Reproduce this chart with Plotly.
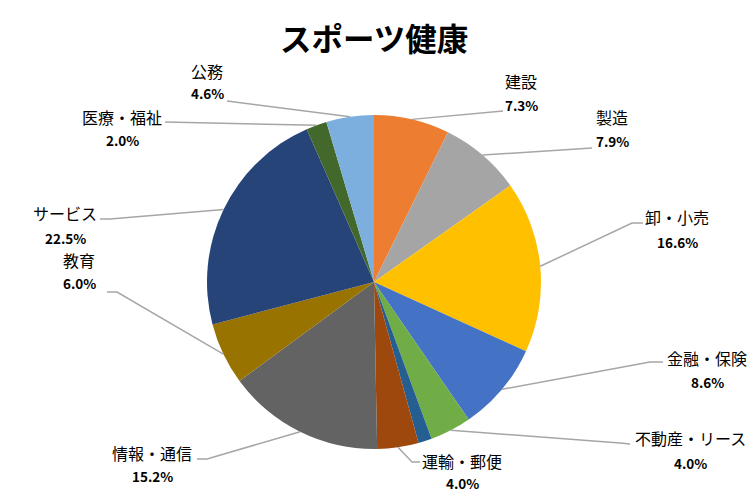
import math
import plotly.graph_objects as go

# ---- data ----
categories = ["建設", "製造", "卸・小売", "金融・保険", "不動産・リース", "",
              "運輸・郵便", "情報・通信", "教育", "サービス", "医療・福祉", "公務"]
values = [7.3, 7.9, 16.6, 8.6, 4.0, 1.3, 4.0, 15.2, 6.0, 22.5, 2.0, 4.6]
colors = ["#ED7D31", "#A5A5A5", "#FFC000", "#4472C4", "#70AD47", "#255E91",
          "#9E480E", "#636363", "#997300", "#264478", "#43682B", "#7CAFDD"]
title = "スポーツ健康"

# ---- layout (pixels) ----
W, H = 748, 492
CX, CY, R = 374, 282, 167
# label centre x, name line y, percent line y
label_pos = [(521, 81, 105), (612, 117, 141), (677, 217, 242), (707, 358, 382),
             (690, 438, 463), None, (462, 461, 483), (152, 453, 476),
             (79, 260, 283), (65, 213, 238), (122, 117, 140), (207, 71, 93)]
# leader bend point, leader end point
leader_pts = [((503, 111), (503, 111)), ((592, 148), (592, 148)),
              ((632, 223), (643, 223)), ((650, 362), (663, 362)),
              ((620, 443), (630, 444)), None, ((412, 462), (420, 462)),
              ((207, 459), (197, 459)), ((117, 292), (107, 292)),
              ((110, 219), (100, 219)), ((165, 122), (165, 122)),
              ((227, 101), (227, 101))]

def px(x):
    return x / W

def py(y):
    return 1 - y / H

fig = go.Figure(go.Pie(
    labels=[c if c else "その他" for c in categories], values=values,
    sort=False, direction="clockwise", rotation=0,
    marker=dict(colors=colors, line=dict(width=0)),
    textinfo="none", hoverinfo="label+percent",
    domain=dict(x=[px(CX - R), px(CX + R)], y=[py(CY + R), py(CY - R)]),
    showlegend=False,
))

total = sum(values)
cum = 0.0
annotations = []
shapes = []
for cat, v, lp, ld in zip(categories, values, label_pos, leader_pts):
    mid = (cum + v / 2) / total * 2 * math.pi
    cum += v
    if lp is None:
        continue
    sx = CX + R * math.sin(mid)
    sy = CY - R * math.cos(mid)
    (bx, by), (ex, ey) = ld
    path = f"M {px(sx)},{py(sy)} L {px(bx)},{py(by)} L {px(ex)},{py(ey)}"
    shapes.append(dict(type="path", xref="paper", yref="paper", path=path,
                       line=dict(color="#A6A6A6", width=1.5)))
    lx, ly, pyy = lp
    annotations.append(dict(x=px(lx), y=py(ly), xref="paper", yref="paper",
                            text=cat, showarrow=False, xanchor="center", yanchor="middle",
                            font=dict(size=16, color="#000000")))
    annotations.append(dict(x=px(lx), y=py(pyy), xref="paper", yref="paper",
                            text=f"<b>{v / total * 100:.1f}%</b>", showarrow=False,
                            xanchor="center", yanchor="middle",
                            font=dict(size=13.5, color="#000000")))

annotations.append(dict(x=px(374), y=py(37), xref="paper", yref="paper",
                        text=f"<b>{title}</b>", showarrow=False, xanchor="center",
                        yanchor="middle", font=dict(size=31.5, color="#000000")))

fig.update_layout(
    width=W, height=H,
    margin=dict(l=0, r=0, t=0, b=0),
    paper_bgcolor="white", plot_bgcolor="white",
    font=dict(family="Noto Sans CJK JP, Noto Sans, sans-serif"),
    annotations=annotations, shapes=shapes,
)

fig.write_html("out.html", config={"displayModeBar": False},
               post_script="document.body.style.margin='0';document.body.style.overflow='hidden';")
